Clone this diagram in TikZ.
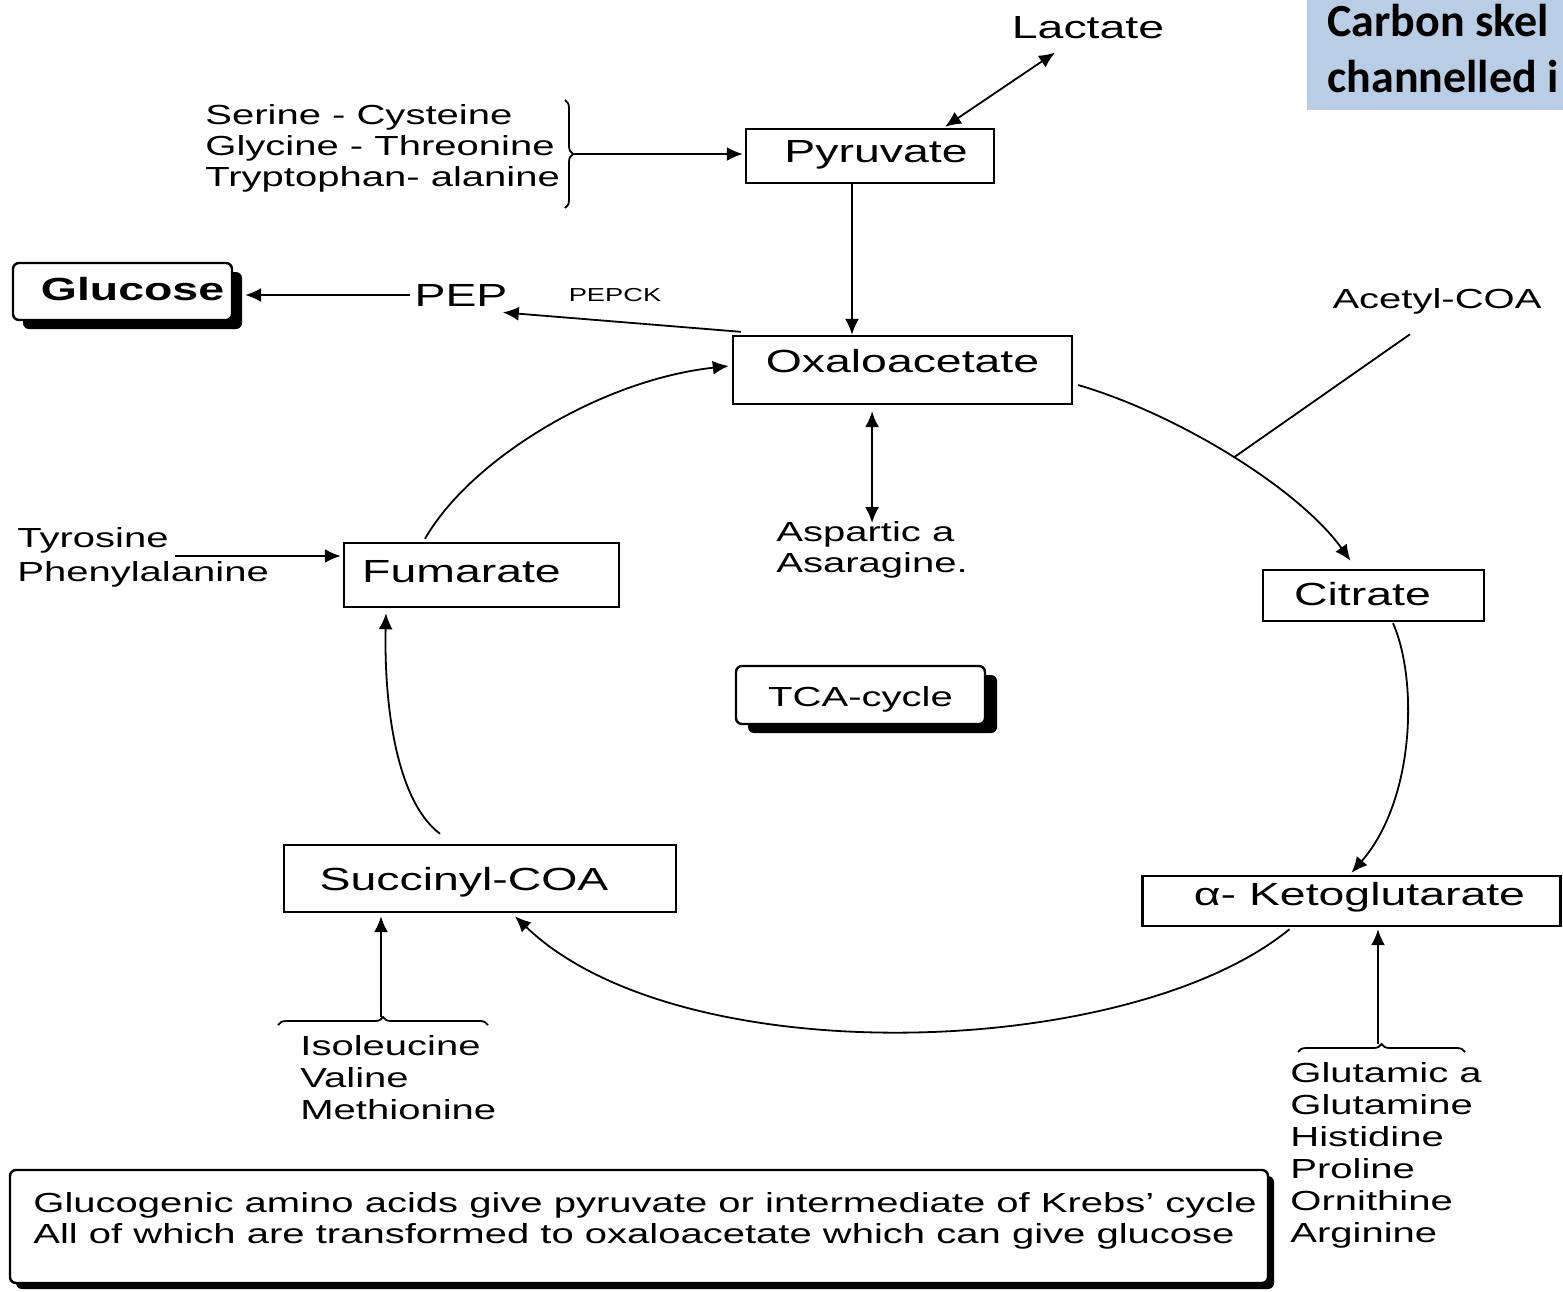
\documentclass[tikz,border=0pt]{standalone}
\usepackage{fontspec}
\setmainfont{Liberation Sans}[FakeStretch=1.45]
\newfontfamily\titlefont{Carlito}
\usetikzlibrary{arrows.meta,decorations.pathreplacing,shadows,calc}
\definecolor{titleblue}{RGB}{185,205,229}
\newcommand\bigf{\fontsize{16}{19}\selectfont}
\newcommand\smf{\fontsize{13.8}{15.5}\selectfont}
\newcommand\shiftx[2]{\hspace*{#1}#2\hspace*{-#1}}
\begin{document}
\begin{tikzpicture}[x=0.5pt,y=-0.5pt,
  box/.style={draw, line width=1.2pt, inner sep=0pt, text height=12pt, font=\bigf},
  arr/.style={line width=0.9pt, -{Latex[length=8pt,width=7pt]}},
  dbl/.style={line width=0.9pt, {Latex[length=8pt,width=7pt]}-{Latex[length=8pt,width=7pt]}},
  lbl/.style={inner sep=0pt, font=\smf, align=left, anchor=north west},
  plain/.style={inner sep=2pt, font=\bigf},
  brc/.style={decorate, decoration={brace, amplitude=4pt}, line width=0.9pt},
  shad/.style={fill=white, drop shadow={shadow xshift=#1, shadow yshift=-4.5pt, fill=black, opacity=1}}
]
\useasboundingbox (0,0) rectangle (1563,1291);

% title box (cut at the picture edge, as in the reference)
\fill[titleblue] (1307,0) rectangle (1563,110);
\node[anchor=north west, inner sep=0pt, align=left,
      font={\titlefont\bfseries\fontsize{23}{28}\selectfont}] (title) at (1327,4)
      {Carbon skel\\channelled i};

% main boxes
\node[box, minimum width=124pt, minimum height=27pt, text depth=6pt] (pyr) at (870,156) {\shiftx{3pt}{Pyruvate}};
\node[box, minimum width=169.5pt, minimum height=34pt, text depth=10pt] (oxa) at (902.5,370) {Oxaloacetate};
\node[box, minimum width=137.5pt, minimum height=32pt, text depth=5pt] (fum) at (481.5,575) {\shiftx{-10pt}{Fumarate}};
\node[box, minimum width=110.5pt, minimum height=25.5pt, text depth=2.5pt] (cit) at (1373.5,595.5) {\shiftx{-5.5pt}{Citrate}};
\node[box, minimum width=196pt, minimum height=33.5pt, text depth=0pt] (suc) at (480,878.5) {\shiftx{-8pt}{Succinyl-COA}};
\node[box, minimum width=209pt, minimum height=25pt, text depth=8pt] (keto) at (1351.5,901) {\shiftx{4pt}{α- Ketoglutarate}};
\node[box, rounded corners=3pt, font=\bigf\bfseries, minimum width=109.5pt, minimum height=28.5pt,
      text depth=3.5pt, shad=5pt] (glu) at (122.5,291.5) {\shiftx{5pt}{Glucose}};
\node[box, rounded corners=3pt, font=\smf, minimum width=124.5pt, minimum height=29pt,
      text depth=1pt, shad=6pt] (tca) at (860.5,695) {TCA-cycle};
\node[box, rounded corners=3pt, minimum width=629pt, minimum height=56.5pt,
      fill=white, drop shadow={shadow xshift=3pt, shadow yshift=-3pt, fill=black, opacity=1}] (note) at (639,1226.5) {};
\node[lbl] (notetext) at (33,1192) {Glucogenic amino acids give pyruvate or intermediate of Krebs' cycle\\All of which are transformed to oxaloacetate which can give glucose};

% plain labels
\node[plain] (lac) at (1088,28) {Lactate};
\node[plain] (pep) at (461,295) {PEP};
\node[inner sep=1pt, font=\fontsize{9.4}{11}\selectfont] (pepck) at (615,295) {PEPCK};
\node[plain, font=\smf] (acet) at (1437,301) {Acetyl-COA};
\node[lbl] (ser) at (205,104) {Serine - Cysteine\\Glycine - Threonine\\Tryptophan- alanine};
\node[lbl] (tyr) at (17,527) {Tyrosine\\[1.5pt]Phenylalanine};
\node[lbl] (asp) at (776,521) {Aspartic a\\Asaragine.};
\node[lbl] (ile) at (300,1035) {Isoleucine\\[0.5pt]Valine\\[0.5pt]Methionine};
\node[lbl] (glx) at (1290,1062) {Glutamic a\\[0.5pt]Glutamine\\[0.5pt]Histidine\\[0.5pt]Proline\\[0.5pt]Ornithine\\[0.5pt]Arginine};

% connectors
\draw[dbl] ($(lac.south)+(-33,9)$) -- ($(pyr.north)+(75,-1)$);

\draw[brc] (565,100) -- (565,208);
\coordinate (b1) at (573,154);
\draw[arr, shorten >=1pt] (b1) -- (b1 -| pyr.west);

\coordinate (p1) at ($(pyr.south)+(-18,0)$);
\draw[arr] (p1) -- (p1 |- oxa.north);

\draw[arr] ($(oxa.north west)+(9,-3)$) -- ($(pep.south east)+(-9,2)$);
\coordinate (g1) at ($(glu.east)+(12,0)$);
\draw[arr] (pep.west) -- (pep.west -| g1);

\coordinate (a1) at ($(asp.north |- oxa.south)+(0,6)$);
\draw[dbl] (a1) -- ($(asp.north)+(0,2)$);

\draw[arr] ($(oxa.east)+(5,15)$) .. controls (1180,415) and (1300,490) .. ($(cit.north)+(-23,-8)$) coordinate[pos=0.5] (jn);
\coordinate (acs) at ($(acet.south)+(-27,16)$);
\draw[line width=0.9pt] (acs) -- (jn);

\draw[arr] ($(cit.south)+(19.5,1)$) .. controls (1418,680) and (1415,800) .. ($(keto.north)+(0,-2)$);
\draw[arr] ($(keto.south)+(-62,2)$) .. controls (1130,1060) and (680,1075) .. ($(suc.south)+(35,3)$);
\draw[arr] ($(suc.north)+(-40,-10)$) .. controls (395,800) and (384,700) .. ($(fum.south)+(-95.5,5)$);
\draw[arr] ($(fum.north)+(-56.5,-3)$) .. controls (470,460) and (600,380) .. ($(oxa.west)+(-3,-4)$);

\coordinate (t1) at ($(tyr.north west)+(158,29)$);
\draw[arr, shorten >=1pt] (t1) -- (t1 -| fum.west);

\draw[brc] (278,1025) -- (488,1025);
\coordinate (ib) at (381,1017);
\draw[arr, shorten >=1.5pt] (ib) -- (ib |- suc.south);

\draw[brc] (1298,1052) -- (1465,1052);
\coordinate (gb) at (1378,1044);
\draw[arr, shorten >=1pt] (gb) -- (gb |- keto.south);
\end{tikzpicture}
\end{document}
